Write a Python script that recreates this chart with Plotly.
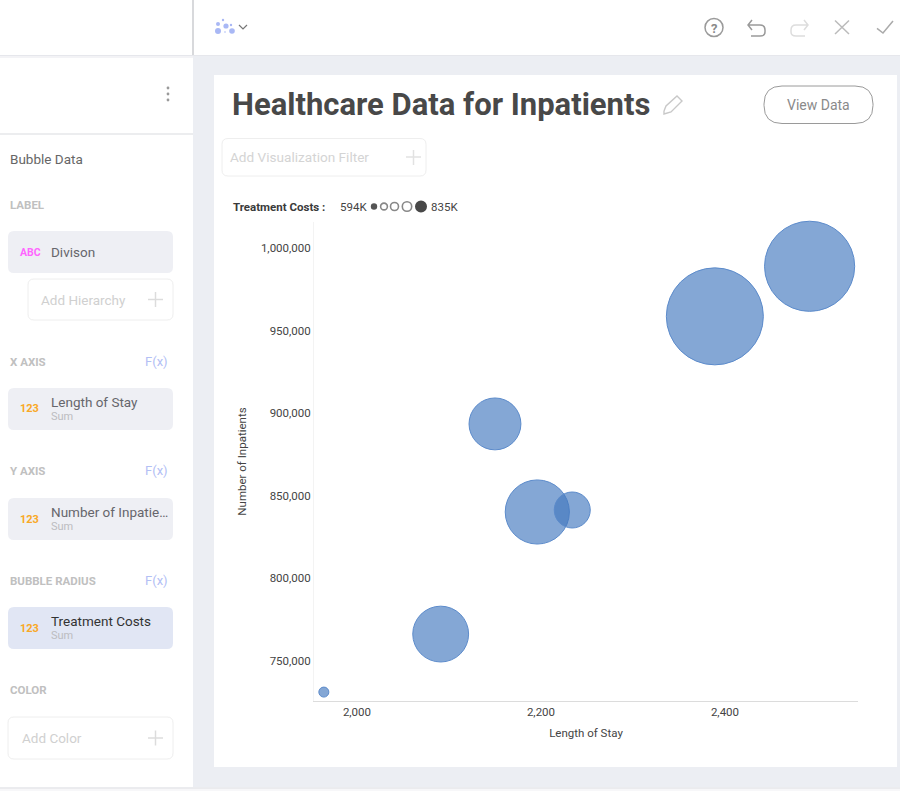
import plotly.graph_objects as go

# ---- data ----
divisions = ["Division A", "Division B", "Division C", "Division D", "Division E", "Division F", "Division G"]
length_of_stay = [1964, 2091, 2196, 2234, 2150, 2389, 2492]
inpatients = [731200, 766300, 840200, 841400, 893500, 958600, 988900]
treatment_costs = [594, 721, 744, 666, 710, 835, 816]  # thousands
x_ticks = [2000, 2200, 2400]
y_ticks = [750000, 800000, 850000, 900000, 950000, 1000000]

W, H = 900, 791
FONT = "Roboto"
GREY_BG = "#eceef3"
CHIP = "#eeeff4"
CHIP_ACTIVE = "#e1e6f4"

PX = lambda v: v / W
PY = lambda v: 1 - v / H

shapes, annos = [], []


def rect(x0, y0, x1, y1, fill="#ffffff", line=None, r=0, lw=1):
    ln = dict(color=line, width=lw) if line else dict(width=0)
    if r:
        p = (f"M {PX(x0+r)} {PY(y0)} L {PX(x1-r)} {PY(y0)} Q {PX(x1)} {PY(y0)} {PX(x1)} {PY(y0+r)} "
             f"L {PX(x1)} {PY(y1-r)} Q {PX(x1)} {PY(y1)} {PX(x1-r)} {PY(y1)} "
             f"L {PX(x0+r)} {PY(y1)} Q {PX(x0)} {PY(y1)} {PX(x0)} {PY(y1-r)} "
             f"L {PX(x0)} {PY(y0+r)} Q {PX(x0)} {PY(y0)} {PX(x0+r)} {PY(y0)} Z")
        shapes.append(dict(type="path", xref="paper", yref="paper", path=p, fillcolor=fill, line=ln, layer="below"))
    else:
        shapes.append(dict(type="rect", xref="paper", yref="paper", x0=PX(x0), x1=PX(x1), y0=PY(y0), y1=PY(y1),
                           fillcolor=fill, line=ln, layer="below"))


def seg(pts, color="#aaaaaa", lw=1.5):
    p = "M " + " L ".join(f"{PX(a)} {PY(b)}" for a, b in pts)
    shapes.append(dict(type="path", xref="paper", yref="paper", path=p, line=dict(color=color, width=lw), layer="below"))


def arrow(mirror, color):
    """Curved undo/redo glyph; mirror=None draws undo, otherwise x is reflected."""
    f = (lambda x: PX(x)) if mirror is None else (lambda x: PX(mirror - x))
    p = (f"M {f(752)} {PY(20)} L {f(748)} {PY(25)} L {f(752)} {PY(30)} M {f(748)} {PY(25)} L {f(760)} {PY(25)} "
         f"Q {f(765)} {PY(25)} {f(765)} {PY(30)} L {f(765)} {PY(32)} Q {f(765)} {PY(36)} {f(760)} {PY(36)} L {f(751)} {PY(36)}")
    shapes.append(dict(type="path", xref="paper", yref="paper", path=p, line=dict(color=color, width=1.5), layer="below"))


def circ(cx, cy, r, fill="rgba(0,0,0,0)", line=None, lw=1):
    ln = dict(color=line, width=lw) if line else dict(width=0)
    shapes.append(dict(type="circle", xref="paper", yref="paper", x0=PX(cx - r), x1=PX(cx + r), y0=PY(cy + r), y1=PY(cy - r),
                       fillcolor=fill, line=ln, layer="below"))


def text(x, y, s, size=12, color="#555555", anchor="left", bold=False, family=FONT):
    annos.append(dict(xref="paper", yref="paper", x=PX(x), y=PY(y), text=f"<b>{s}</b>" if bold else s, showarrow=False,
                      xanchor=anchor, yanchor="middle", xshift=-2 if anchor == "left" else 0, align=anchor,
                      font=dict(family=family, size=size, color=color)))


# ---- application chrome ----
rect(0, 0, 900, 55)                    # top bar
rect(0, 55, 193, 787)                  # side panel
seg([(0, 55.5), (900, 55.5)], "#e6e7ec", 1)
seg([(0, 57), (193, 57)], "#f3f3f6", 2)
rect(0, 787, 900, 791, fill="#f7f7f9")
seg([(0, 788), (900, 788)], "#dfe0e4", 1)
rect(214, 75, 897, 767)                # card
seg([(193, 0), (193, 55)], "#d8d9dc", 2)
seg([(0, 134), (193, 134)], "#e6e7ea", 1.5)
for cy in (88, 94, 100):
    circ(168, cy, 1.4, fill="#9a9a9a")

# toolbar icon
for cx, cy, r in [(218, 31, 3), (226, 26, 2.6), (232, 31, 2.8), (218, 24, 2), (223, 20, 1.2), (231, 25, 1.2), (225, 32, 0.8)]:
    circ(cx, cy, r, fill="#a9b8f5")
seg([(239, 25), (243, 29), (247, 25)], "#777777", 1.2)
# help / undo / redo / close / ok
circ(714, 27.5, 9, line="#9a9a9a", lw=1.5)
text(714, 28, "?", 13, "#8a8a8a", "center", True)
arrow(None, "#9a9a9a")
arrow(1556, "#dddddd")
seg([(835, 20.5), (849, 34)], "#bbbbbb", 1.5)
seg([(849, 20.5), (835, 34)], "#bbbbbb", 1.5)
seg([(877, 28.3), (883, 33), (893, 21)], "#aaaaaa", 1.5)

# pencil
seg([(664, 111), (666, 106), (677, 96), (682, 101), (671, 112), (664, 114), (664, 111)], "#c8c8c8", 1.4)

# title + controls
text(231.5, 104.5, "Healthcare Data for Inpatients", 31, "#484848", bold=True)
rect(764, 86, 873, 123.5, fill="#ffffff", line="#9a9a9a", r=18)
text(818.5, 105, "View Data", 14, "#8a8a8a", "center")
rect(222, 138.5, 426, 176, fill="#ffffff", line="#eeeeee", r=6)
text(230, 157, "Add Visualization Filter", 13.6, "#d4d4d4")
seg([(406, 157), (421, 157)], "#e2e2e2", 1.5)
seg([(413.5, 150), (413.5, 165)], "#e2e2e2", 1.5)

# size legend
text(233, 206.5, "Treatment Costs :", 11.5, "#3a3a3a", bold=True)
text(340, 206.5, "594K", 11.5, "#444444")
circ(374, 206.5, 3.2, fill="#555555")
circ(384, 206.5, 3.4, line="#888888", lw=1.6)
circ(394.5, 206.5, 4, line="#888888", lw=1.6)
circ(407, 206.5, 4.7, line="#888888", lw=1.6)
circ(421, 206.5, 6, fill="#484848")
text(431, 206.5, "835K", 11.5, "#444444")

# side panel
text(10, 159.5, "Bubble Data", 13.5, "#666666")


def chip(y0, y1, icon, icon_color, title, sub=None, fill=CHIP, title_color="#66666c"):
    rect(8, y0, 173, y1, fill=fill, r=6)
    mid = (y0 + y1) / 2
    text(19.5, mid, icon, 11 if icon == "123" else 10.5, icon_color, bold=True)
    if sub:
        text(51, mid - 7.5, title, 13.5, title_color)
        text(51, mid + 7.5, sub, 11, "#bcbcc0")
    else:
        text(51, mid, title, 13.5, title_color)


def add_box(x0, y0, x1, y1, label, tx):
    rect(x0, y0, x1, y1, fill="#ffffff", line="#eeeeee", r=6)
    mid = (y0 + y1) / 2
    text(tx, mid, label, 13.5, "#d0d0d0")
    seg([(148, mid), (163, mid)], "#dcdcdc", 1.5)
    seg([(155.5, mid - 7.5), (155.5, mid + 7.5)], "#dcdcdc", 1.5)


def section(y, s, fx=False):
    text(10, y, s, 11.5, "#c0c0c0", bold=True)
    if fx:
        text(145, y - 0.5, "F(x)", 13, "#b3c0f5")


section(205, "LABEL")
chip(231, 273, "ABC", "#ff66ff", "Divison")
add_box(28, 279, 173, 320, "Add Hierarchy", 41)
section(362, "X AXIS", True)
chip(388, 430, "123", "#f9a825", "Length of Stay", "Sum")
section(471, "Y AXIS", True)
chip(498, 540, "123", "#f9a825", "Number of Inpatie…", "Sum")
section(581, "BUBBLE RADIUS", True)
chip(607, 649, "123", "#f9a825", "Treatment Costs", "Sum", fill=CHIP_ACTIVE, title_color="#333333")
section(690, "COLOR")
add_box(8, 717, 173, 759, "Add Color", 22)

# ---- bubble scale: cost (K) -> diameter in px ----
c_min, c_max = min(treatment_costs), max(treatment_costs)
diam = [10 + (c - c_min) * 87 / (c_max - c_min) for c in treatment_costs]

fig = go.Figure(
    go.Scatter(
        x=length_of_stay,
        y=inpatients,
        text=divisions,
        customdata=treatment_costs,
        mode="markers",
        cliponaxis=False,
        marker=dict(size=diam, sizemode="diameter", color="rgba(66,120,190,0.65)",
                    opacity=1, line=dict(color="#5c8bcb", width=1)),
        hovertemplate="%{text}<br>Length of Stay %{x:,}<br>Inpatients %{y:,}<br>Costs %{customdata}K<extra></extra>",
        showlegend=False,
    )
)

fig.update_layout(
    width=W,
    height=H,
    margin=dict(l=0, r=0, t=0, b=0),
    paper_bgcolor=GREY_BG,
    plot_bgcolor="rgba(0,0,0,0)",
    font=dict(family=FONT, size=12, color="#444444"),
    shapes=shapes,
    annotations=annos,
    xaxis=dict(
        domain=[PX(314), PX(858)],
        range=[1953.3, 2544.6],
        tickvals=x_ticks,
        tickformat=",",
        showgrid=False,
        zeroline=False,
        showline=True,
        linecolor="#dcdcdc",
        linewidth=1,
        ticks="",
        ticklen=0,
        tickfont=dict(family=FONT, size=11.5, color="#444444"),
        title=dict(text="Length of Stay", standoff=11, font=dict(family=FONT, size=11.5, color="#444444")),
    ),
    yaxis=dict(
        domain=[PY(701), PY(222)],
        range=[725800, 1015700],
        tickvals=y_ticks,
        tickformat=",",
        showgrid=False,
        zeroline=False,
        showline=True,
        linecolor="#f3f3f3",
        linewidth=1,
        ticks="",
        ticklen=0,
        tickfont=dict(family=FONT, size=11.5, color="#444444"),
        title=dict(text="Number of Inpatients", standoff=11, font=dict(family=FONT, size=11.5, color="#444444")),
    ),
)

fig.write_html("out.html", config=dict(displayModeBar=False),
               post_script="document.body.style.margin='0';document.body.style.overflow='hidden';")
